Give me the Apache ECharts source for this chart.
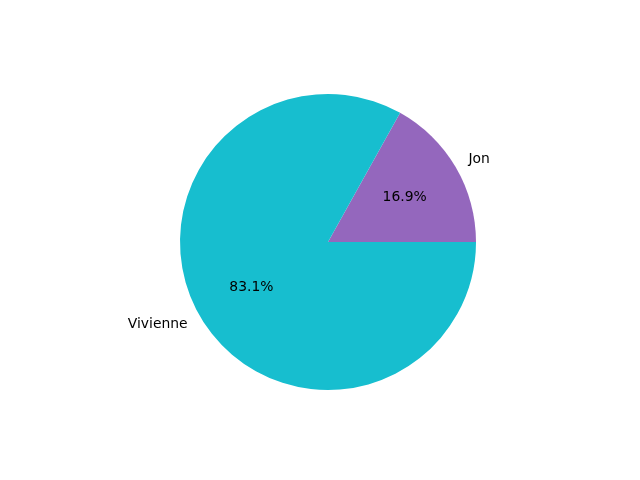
<!DOCTYPE html>
<html>
<head>
<meta charset="utf-8">
<script src="https://cdn.jsdelivr.net/npm/echarts@6/dist/echarts.min.js"></script>
<style>
	html, body { margin: 0; padding: 0; background: #fff; }
	#chart { width: 640px; height: 480px; }
</style>
</head>
<body>
<div id="chart"></div>
<script>
var names = ['Jon', 'Vivienne'];
var shares = [16.9, 83.1];
var colors = ['#9467bd', '#17becf'];

var center = [328, 242];
var radius = 148;

function buildData(withColor) {
	return names.map(function (name, i) {
		return {
			name: name,
			value: shares[i],
			itemStyle: { color: withColor ? colors[i] : 'rgba(0,0,0,0)' }
		};
	});
}

var baseText = {
	color: '#000',
	fontFamily: 'DejaVu Sans',
	fontSize: 13.9
};

echarts.init(document.querySelector('#chart')).setOption({
	animation: false,
	series: [{
		// wedges
		type: 'pie',
		center: center,
		radius: radius,
		startAngle: 0,
		clockwise: false,
		silent: true,
		label: { show: false },
		labelLine: { show: false },
		data: buildData(true)
	}, {
		// percentages at ~0.6 r
		type: 'pie',
		center: center,
		radius: [0, radius * 1.16],
		startAngle: 0,
		clockwise: false,
		silent: true,
		percentPrecision: 1,
		avoidLabelOverlap: false,
		label: Object.assign({ show: true, position: 'inside', formatter: '{d}%' }, baseText),
		labelLine: { show: false },
		data: buildData(false)
	}, {
		// names at 1.1 r
		type: 'pie',
		center: center,
		radius: radius * 1.1,
		startAngle: 0,
		clockwise: false,
		silent: true,
		avoidLabelOverlap: false,
		label: Object.assign({ show: true, position: 'outside', distanceToLabelLine: 0, formatter: '{b}' }, baseText),
		labelLine: { show: false, length: 0, length2: 0 },
		data: buildData(false)
	}]
});
</script>
</body>
</html>
